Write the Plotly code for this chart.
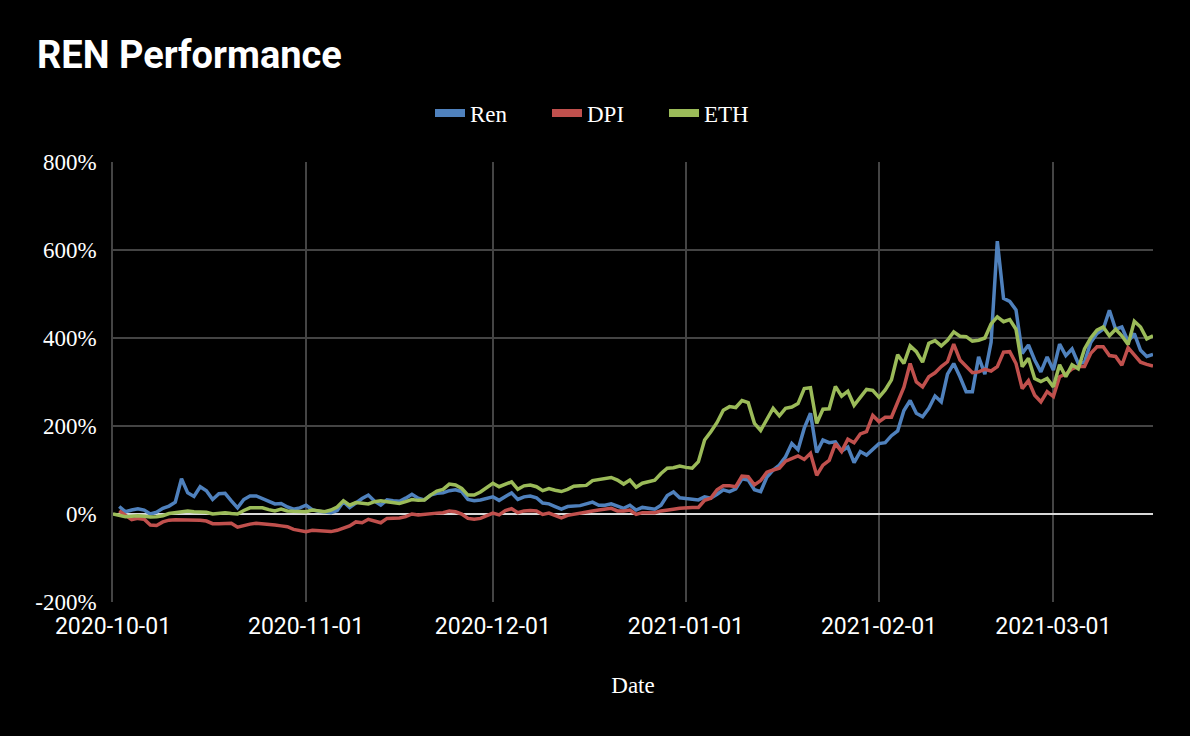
import pandas as pd
import plotly.graph_objects as go

start_date = "2020-10-01"
n_days = 168

ren = [None, 17, 5, 9, 12, 9, 0, 4, 13, 18, 27, 80, 48, 40, 62, 53, 33, 46, 47, 30,
       14, 33, 41, 41, 35, 28, 23, 24, 16, 11, 14, 20, 10, 6, 4, 3, 8, 28, 15, 26,
       35, 43, 29, 20, 32, 30, 29, 36, 45, 36, 32, 43, 47, 48, 53, 55, 51, 33, 30, 32,
       35, 39, 31, 40, 48, 33, 39, 41, 37, 25, 23, 17, 11, 17, 18, 19, 23, 27, 20, 20,
       23, 18, 13, 20, 9, 15, 12, 11, 20, 42, 50, 37, 35, 34, 32, 39, 36, 45, 55, 51,
       57, 80, 77, 55, 51, 84, 100, 111, 130, 160, 146, 195, 229, 140, 168, 162, 164, 143, 152, 117,
       142, 134, 147, 160, 162, 178, 189, 235, 258, 229, 221, 240, 268, 255, 318, 342, 312, 278, 278, 357,
       318, 390, 620, 490, 483, 464, 365, 384, 350, 323, 357, 327, 386, 360, 375, 342, 345, 390, 410, 420,
       463, 420, 425, 392, 410, 372, 358, 363]

dpi = [None, 7, -3, -13, -10, -12, -25, -26, -18, -14, -13, -13, -13, -14, -14, -16, -22, -22, -21, -21,
       -30, -26, -23, -21, -22, -24, -25, -27, -29, -35, -37, -40, -37, -38, -40, -40, -37, -32, -27, -18,
       -20, -12, -17, -20, -10, -10, -9, -6, 0, -2, 0, 2, 2, 3, 7, 5, 0, -10, -12, -10,
       -5, 2, -2, 8, 12, 3, 7, 8, 7, -1, 2, -4, -9, -3, 0, 3, 5, 7, 9, 11,
       13, 7, 7, 9, -1, 3, 3, 3, 7, 10, 11, 13, 15, 15, 15, 31, 36, 55, 64, 64,
       62, 86, 85, 66, 76, 95, 100, 104, 120, 127, 132, 124, 138, 88, 111, 122, 160, 142, 170, 162,
       182, 187, 224, 210, 220, 220, 253, 288, 342, 300, 289, 312, 321, 335, 346, 386, 350, 335, 321, 323,
       329, 325, 335, 368, 369, 342, 285, 303, 270, 255, 278, 267, 312, 318, 330, 335, 335, 365, 380, 380,
       360, 358, 338, 378, 360, 345, 340, 336]

eth = [0, -3, -6, -5, -4, -5, -7, -6, -4, 1, 3, 6, 7, 5, 5, 4, 0, 2, 3, 1,
       0, 8, 14, 14, 14, 10, 7, 11, 7, 6, 5, 5, 9, 6, 5, 9, 16, 30, 20, 26,
       24, 23, 28, 30, 28, 26, 24, 28, 33, 31, 32, 43, 52, 56, 68, 66, 58, 43, 43, 50,
       60, 70, 62, 68, 73, 56, 64, 66, 62, 53, 58, 54, 51, 56, 63, 64, 65, 76, 79, 81,
       83, 77, 68, 77, 61, 70, 73, 77, 92, 104, 105, 109, 106, 104, 119, 168, 187, 208, 236, 244,
       242, 258, 253, 206, 190, 217, 240, 223, 240, 243, 251, 285, 287, 206, 238, 239, 290, 268, 279, 247,
       265, 283, 281, 265, 282, 305, 362, 342, 382, 369, 345, 388, 394, 382, 395, 414, 404, 403, 393, 395,
       400, 432, 448, 437, 442, 420, 335, 354, 308, 301, 308, 289, 339, 312, 339, 330, 375, 400, 418, 425,
       405, 420, 405, 385, 438, 425, 398, 405]

series_names = ["Ren", "DPI", "ETH"]
series_colors = ["#4F81BD", "#C0504D", "#9BBB59"]
y_tick_vals = [-200, 0, 200, 400, 600, 800]
y_tick_text = ["-200%", "0%", "200%", "400%", "600%", "800%"]
x_tick_vals = ["2020-10-01", "2020-11-01", "2020-12-01", "2021-01-01", "2021-02-01", "2021-03-01"]

dates = pd.date_range(start_date, periods=n_days, freq="D")

fig = go.Figure()
for name, vals, col in zip(series_names, [ren, dpi, eth], series_colors):
    fig.add_trace(go.Scatter(x=dates, y=vals, name=name, mode="lines", legendgroup=name,
                             showlegend=False, line=dict(color=col, width=3.5)))
for name, col in zip(series_names, series_colors):
    # legend swatch (thick short bar, as in the reference)
    fig.add_trace(go.Scatter(x=[None], y=[None], name=name, mode="lines", legendgroup=name,
                             showlegend=True, line=dict(color=col, width=8)))

serif = "Liberation Serif, Times New Roman, serif"

fig.update_layout(
    width=1190, height=736,
    paper_bgcolor="black", plot_bgcolor="black",
    margin=dict(l=113, r=37, t=162, b=134),
    title=dict(text="<b>REN Performance</b>", x=37/1190, xref="container",
               xanchor="left", y=1-55/736, yanchor="middle", yref="container",
               font=dict(family="Roboto", size=38, color="white")),
    legend=dict(orientation="h", x=(430-113)/1040, xanchor="left", y=1 + 49/440, yanchor="middle",
                font=dict(family=serif, size=23, color="white"), bgcolor="rgba(0,0,0,0)",
                itemwidth=30, entrywidth=72, entrywidthmode="pixels"),
    showlegend=True,
)

fig.update_xaxes(
    range=[dates[0], dates[-1]],
    tickvals=x_tick_vals, tickformat="%Y-%m-%d",
    tickfont=dict(family="Roboto", size=23, color="white"),
    showgrid=True, gridcolor="#444444", gridwidth=1.5,
    showline=False, zeroline=False, ticks="", ticklabelstandoff=8,
    title=dict(text="Date", font=dict(family=serif, size=23, color="white"), standoff=37),
)
fig.update_yaxes(
    range=[-200, 800], tickvals=y_tick_vals, ticktext=y_tick_text,
    tickfont=dict(family=serif, size=23, color="white"),
    showgrid=True, gridcolor="#444444", gridwidth=1.5,
    zeroline=True, zerolinecolor="#d9d9d9", zerolinewidth=1.5,
    showline=True, linecolor="#444444", linewidth=1.5, ticks="", ticklabelstandoff=10,
)

fig.write_html("out.html", config={"displayModeBar": False},
               post_script="document.body.style.margin='0';document.body.style.background='black';")
